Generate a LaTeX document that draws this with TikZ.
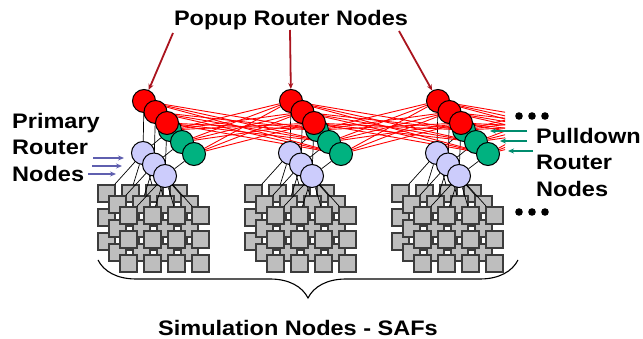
\documentclass[tikz,border=0pt]{standalone}
\usepackage{fontspec}
\newfontfamily\lblfont{Liberation Sans}[FakeStretch=1.12]
\usetikzlibrary{arrows.meta,decorations.pathreplacing}
\definecolor{pullgreen}{RGB}{0,178,128}
\definecolor{primlav}{RGB}{204,204,252}
\definecolor{safgray}{RGB}{190,190,190}
\definecolor{safedge}{RGB}{60,60,60}
\definecolor{arrowred}{RGB}{170,20,30}
\definecolor{arrowblue}{RGB}{95,95,175}
\definecolor{arrowgreen}{RGB}{0,140,110}
\pgfdeclarelayer{grid}
\pgfdeclarelayer{links}
\pgfsetlayers{grid,links,main}
\tikzstyle{lbltext} = [font={\lblfont\bfseries\fontsize{21}{26.5}\selectfont},inner sep=0pt]

\begin{document}
\begin{tikzpicture}
		[x=1pt,y=-1pt,
		router/.style={
		circle,
		draw,
		line width=1pt,
		minimum size=23pt,
		inner sep=0pt},
		popup/.style={router,fill=red},
		pulldown/.style={router,fill=pullgreen},
		primary/.style={router,fill=primlav},
		saf/.style={rectangle,draw=safedge,fill=safgray,line width=1.1pt,minimum size=17pt,inner sep=0pt},
		wire/.style={black,line width=0.7pt},
		redlink/.style={red,line width=0.9pt},
		poparr/.style={arrowred,line width=1.8pt,-{Stealth[length=6pt,width=5pt]}},
		primarr/.style={arrowblue,line width=1.8pt,-{Stealth[length=6pt,width=5pt]}},
		pullarr/.style={arrowgreen,line width=1.8pt,-{Stealth[length=6pt,width=5pt]}},
		safbrace/.style={decorate,decoration={brace,mirror,amplitude=38pt},line width=1.1pt}
		]
		\useasboundingbox (0,0) rectangle (643,339);

		% three clusters: SAF grid, primary, pulldown and popup routers
		\foreach \c/\ox in {1/144,2/291,3/438}{
			\begin{pgfonlayer}{grid}
			\foreach \l in {0,1,2}
				\foreach \r in {0,1,2}
					\foreach \k in {0,1,2,3}
						\node[saf] (saf-\c-\l-\r-\k) at (\ox-37.5+11*\l+24*\k,193.5+11*\l+24*\r) {};
			\end{pgfonlayer}
			\foreach \i in {0,1,2}
				\node[primary] (prim-\c-\i) at (\ox-1+11*\i,153+11.5*\i) {};
			\foreach \i in {0,1,2}
				\node[pulldown] (pull-\c-\i) at (\ox+26+12*\i,130+12*\i) {};
			\foreach \i in {0,1,2}
				\node[popup] (pop-\c-\i) at (\ox+11.5*\i,101+11*\i) {};
			\begin{pgfonlayer}{links}
			\foreach \i in {0,1,2}{
				\draw[wire] (pop-\c-\i) -- (prim-\c-\i);
				\draw[wire] (pull-\c-\i) -- (prim-\c-\i);
				\foreach \k in {0,...,3}
					\draw[wire] (prim-\c-\i) -- (saf-\c-\i-0-\k);
			}
			\end{pgfonlayer}
		}

		% popup to pulldown links between neighbours
		\foreach \i in {0,1,2}{
			\coordinate (pop-4-\i) at (585+11.5*\i,101+11*\i);
			\coordinate (pull-4-\i) at (611+12*\i,130+12*\i);
		}
		\begin{pgfonlayer}{links}
		\foreach \a/\b in {1/2,2/1,2/3,3/2}
			\foreach \i in {0,1,2}
				\foreach \j in {0,1,2}
					\draw[redlink] (pop-\a-\i) -- (pull-\b-\j);
		\begin{scope}
			\clip (0,0) rectangle (505,339);
			\foreach \i in {0,1,2}
				\foreach \j in {0,1,2}{
					\draw[redlink] (pop-3-\i) -- (pull-4-\j);
					\draw[redlink] (pop-4-\i) -- (pull-3-\j);
				}
		\end{scope}
		\end{pgfonlayer}

		% labels
		\node[lbltext,anchor=base] (popup-lbl) at (291,26) {Popup Router Nodes};
		\node[lbltext,anchor=north west,align=left] (primary-lbl) at (12,113) {Primary\\Router\\Nodes};
		\node[lbltext,anchor=north west,align=left] (pulldown-lbl) at (536,128) {Pulldown\\Router\\Nodes};
		\node[lbltext,anchor=base] (saf-lbl) at (298,335) {Simulation Nodes - SAFs};

		\coordinate (t-1) at (173,33);
		\coordinate (t-2) at (290,30);
		\coordinate (t-3) at (399,31);
		\foreach \c in {1,2,3}
			\draw[poparr] (t-\c) -- (pop-\c-0);

		\coordinate (pa-0) at (93,158);
		\coordinate (pa-1) at (92,166);
		\coordinate (pa-2) at (88,174);
		\foreach \n/\s in {0/7,1/9,2/15}
			\draw[primarr,shorten >=\s pt] (pa-\n) -- (pa-\n -| prim-1-0.west);

		\coordinate (pd-0) at (527,131);
		\coordinate (pd-1) at (527,141);
		\coordinate (pd-2) at (533,151);
		\foreach \n/\s in {0/14,1/12,2/8}
			\draw[pullarr,shorten >=\s pt] (pd-\n) -- (pd-\n -| pull-3-\n.east);

		% more clusters
		\foreach \x in {519,532,545}{
			\fill (\x,116) circle (3.8pt);
			\fill (\x,212) circle (3.8pt);
		}

		\coordinate (br-l) at (98,260);
		\coordinate (br-r) at (518,260);
		\draw[safbrace] (br-l) -- (br-r);
		\end{tikzpicture}
\end{document}
